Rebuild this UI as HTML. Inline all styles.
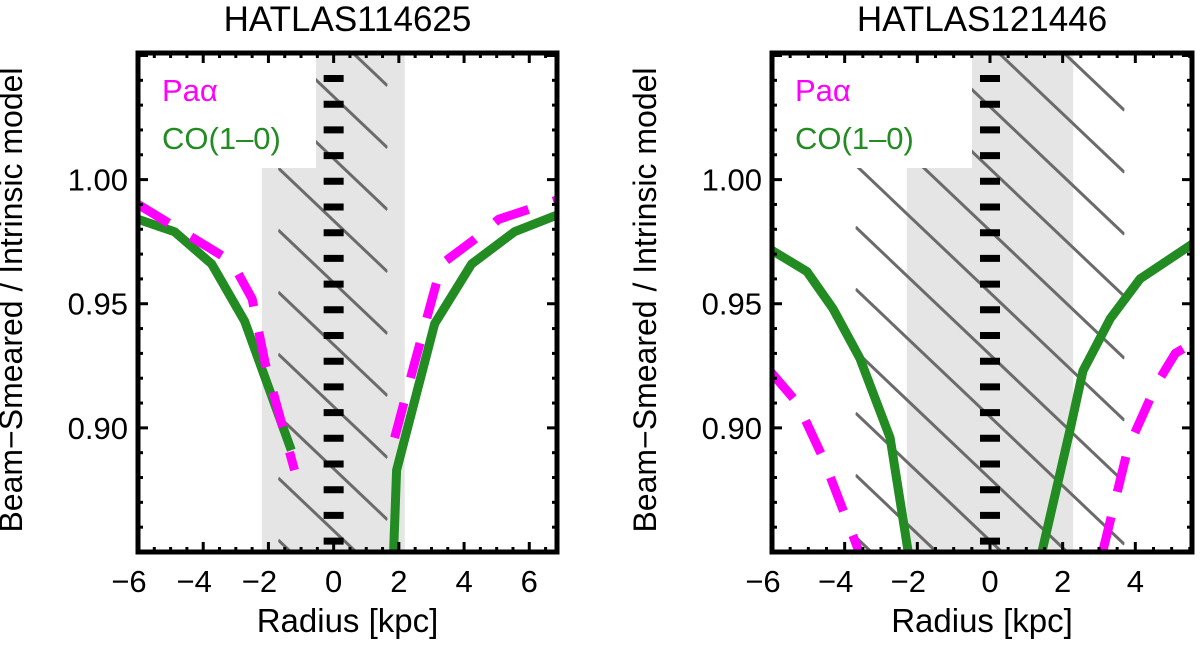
<!DOCTYPE html>
<html><head><meta charset="utf-8"><style>
html,body{margin:0;padding:0;background:#fff;overflow:hidden;width:1200px;height:657px}
svg{display:block;font-family:"Liberation Sans",Arial,sans-serif}
</style></head><body>
<svg id="chart" width="1200" height="657" viewBox="0 0 1200 657" overflow="hidden"></svg>
<script>
// ---- data ----
const panelTitles = ["HATLAS114625", "HATLAS121446"];
const xTicks1 = [-6, -4, -2, 0, 2, 4, 6];
const xTicks2 = [-6, -4, -2, 0, 2, 4];
const yTicks = [0.90, 0.95, 1.00];
const yTickLabels = ["0.90", "0.95", "1.00"];
const band1 = [-2.2, 2.18];
const band2 = [-2.29, 2.29];
const hatch1 = [-1.7, 1.65];
const hatch2 = [-3.7, 3.7];
const coL1x = [-6.0, -4.88, -3.74, -2.73, -1.3];
const coL1y = [0.984, 0.979, 0.966, 0.943, 0.891];
const coR1x = [1.84, 1.93, 3.10, 4.23, 5.55, 6.9];
const coR1y = [0.85, 0.883, 0.942, 0.966, 0.979, 0.986];
const paL1x = [-6.0, -3.13, -2.5, -2.1, -1.2];
const paL1y = [0.990, 0.967, 0.952, 0.926, 0.883];
const paR1x = [1.87, 2.48, 3.31, 4.33, 5.06, 6.9];
const paR1y = [0.896, 0.926, 0.966, 0.976, 0.984, 0.992];
const coL2x = [-6.06, -5.04, -4.32, -3.58, -2.75, -2.25];
const coL2y = [0.972, 0.963, 0.948, 0.928, 0.896, 0.85];
const coR2x = [1.43, 2.2, 2.56, 3.31, 4.13, 5.56];
const coR2y = [0.85, 0.899, 0.923, 0.944, 0.960, 0.974];
const paL2x = [-6.06, -5.3, -4.6, -3.6];
const paL2y = [0.923, 0.910, 0.888, 0.85];
const paR2x = [3.1, 3.8, 4.6, 5.1, 5.56];
const paR2y = [0.85, 0.892, 0.918, 0.930, 0.934];

const NS = "http://www.w3.org/2000/svg";
const svg = document.getElementById("chart");
function mk(tag, attrs, parent) {
  const e = document.createElementNS(NS, tag);
  for (const k in attrs) e.setAttribute(k, attrs[k]);
  (parent || svg).appendChild(e);
  return e;
}
const YMIN = 0.85, YMAX = 1.051, TOP = 53, BOT = 552;

function panel(idx, L, R, xmin, xmax, xTicks, band, hatch, series) {
  const g = mk("g", {});
  
  
  const sx = v => L + (v - xmin) / (xmax - xmin) * (R - L);
  const sy = v => BOT - (v - YMIN) / (YMAX - YMIN) * (BOT - TOP);
  const cid = "clip" + idx;
  const cp = mk("clipPath", { id: cid }, g);
  mk("rect", { x: L, y: TOP, width: R - L, height: BOT - TOP }, cp);
  const pg = mk("g", { "clip-path": "url(#" + cid + ")" }, g);
  const b = mk("rect", { x: sx(band[0]), y: TOP, width: sx(band[1]) - sx(band[0]), height: BOT - TOP, fill: "#e5e5e5" }, pg);
  
  
  const hid = "hclip" + idx;
  const hc = mk("clipPath", { id: hid }, g);
  mk("rect", { x: sx(hatch[0]), y: TOP, width: sx(hatch[1]) - sx(hatch[0]), height: BOT - TOP }, hc);
  const hg = mk("g", { "clip-path": "url(#" + hid + ")", stroke: "#6b6b6b", "stroke-width": 3 }, pg);
  
  
  const x0 = sx(hatch[0]), x1 = sx(hatch[1]);
  const slope = 0.95, y0 = idx === 0 ? 230 : 227;
  const span = slope * (x1 - x0);
  for (let k = -20; k < 20; k++) {
    const ya = y0 + k * 62;
    if (ya > BOT || ya + span < TOP) continue;
    // trim line to plot vertical range
    let xa = x0, yA = ya, xb = x1, yB = ya + span;
    if (yA < TOP) { xa = x0 + (TOP - ya) / slope; yA = TOP; }
    if (yB > BOT) { xb = x0 + (BOT - ya) / slope; yB = BOT; }
    mk("line", { x1: xa, y1: yA, x2: xb, y2: yB }, hg);
  }
  const lb = mk("rect", { x: L, y: TOP, width: (idx === 0 ? 316 : 972) - L, height: 168 - TOP, fill: "#fff" }, pg);
  
  
  const zl = mk("line", { x1: sx(0), y1: 75, x2: sx(0), y2: BOT, stroke: "#000", "stroke-width": 20, "stroke-dasharray": "7 18.7" }, pg);
  
  
  series.forEach(s => {
    const d = s.x.map((v, i) => (i ? "L" : "M") + sx(v).toFixed(1) + "," + sy(s.y[i]).toFixed(1)).join(" ");
    const p = mk("path", { d: d, fill: "none", stroke: s.c, "stroke-width": 9, "stroke-linejoin": "round", "stroke-dasharray": s.dash || "none" }, pg);
    
    
  });
  const t1 = mk("text", { x: idx === 0 ? 162 : 795, y: 101, "font-size": 31, fill: "#ff00ff" }, g);
  t1.textContent = "Paα";
  
  
  const t2 = mk("text", { x: idx === 0 ? 162 : 795, y: 149, "font-size": 31, fill: "#228b22" }, g);
  t2.textContent = "CO(1–0)";
  
  
  const tg = mk("g", { stroke: "#000", "stroke-width": 3 }, g);
  
  
  for (let v = Math.ceil(xmin * 2) / 2; v <= xmax + 1e-9; v += 0.5) {
    const major = Math.abs(v / 2 - Math.round(v / 2)) < 1e-6;
    const len = major ? 10 : 5, x = sx(v);
    mk("line", { x1: x, y1: BOT, x2: x, y2: BOT - len }, tg);
    mk("line", { x1: x, y1: TOP, x2: x, y2: TOP + len }, tg);
  }
  for (let v = 0.85; v <= YMAX + 1e-9; v += 0.01) {
    const major = Math.abs(v * 20 - Math.round(v * 20)) < 1e-6;
    const len = major ? 10 : 5, y = sy(v);
    mk("line", { x1: L, y1: y, x2: L + len, y2: y }, tg);
    mk("line", { x1: R, y1: y, x2: R - len, y2: y }, tg);
  }
  const fr = mk("rect", { x: L, y: TOP, width: R - L, height: BOT - TOP, fill: "none", stroke: "#000", "stroke-width": 5 }, g);
  
  
  xTicks.forEach(v => {
    const t = mk("text", { x: sx(v) - (v < 0 ? 9 : 0), y: 592, "font-size": 31, "text-anchor": "middle" }, g);
    t.textContent = v < 0 ? "−" + (-v) : String(v);
    
    
  });
  yTicks.forEach((v, i) => {
    const t = mk("text", { x: L - 10, y: sy(v) + 11, "font-size": 31, "text-anchor": "end" }, g);
    t.textContent = yTickLabels[i];
    
    
  });
  const cx = (L + R) / 2;
  const xt = mk("text", { x: cx, y: 632, "font-size": 33, "text-anchor": "middle" }, g);
  xt.textContent = "Radius [kpc]";
  
  
  const tt = mk("text", { x: cx, y: 31, "font-size": 35, "text-anchor": "middle" }, g);
  tt.textContent = panelTitles[idx];
  
  
  const ytx = L - 116;
  const yt = mk("text", { x: ytx, y: 300, "font-size": 32, "text-anchor": "middle", transform: "rotate(-90 " + ytx + " 300)" }, g);
  yt.textContent = "Beam−Smeared / Intrinsic model";
  
  
}
const PINK = "#ff00ff", GREEN = "#228b22";
panel(0, 138, 557, -6.0, 6.85, xTicks1, band1, hatch1, [
  { x: coL1x, y: coL1y, c: GREEN, name: "co-line-left" },
  { x: coR1x, y: coR1y, c: GREEN, name: "co-line-right" },
  { x: paL1x, y: paL1y, c: PINK, dash: "36 26", name: "paalpha-line-left" },
  { x: paR1x, y: paR1y, c: PINK, dash: "36 26", name: "paalpha-line-right" }
]);
panel(1, 772, 1192, -6.0, 5.56, xTicks2, band2, hatch2, [
  { x: coL2x, y: coL2y, c: GREEN, name: "co-line-left" },
  { x: coR2x, y: coR2y, c: GREEN, name: "co-line-right" },
  { x: paL2x, y: paL2y, c: PINK, dash: "36 26", name: "paalpha-line-left" },
  { x: paR2x, y: paR2y, c: PINK, dash: "36 26", name: "paalpha-line-right" }
]);
</script>
</body></html>
